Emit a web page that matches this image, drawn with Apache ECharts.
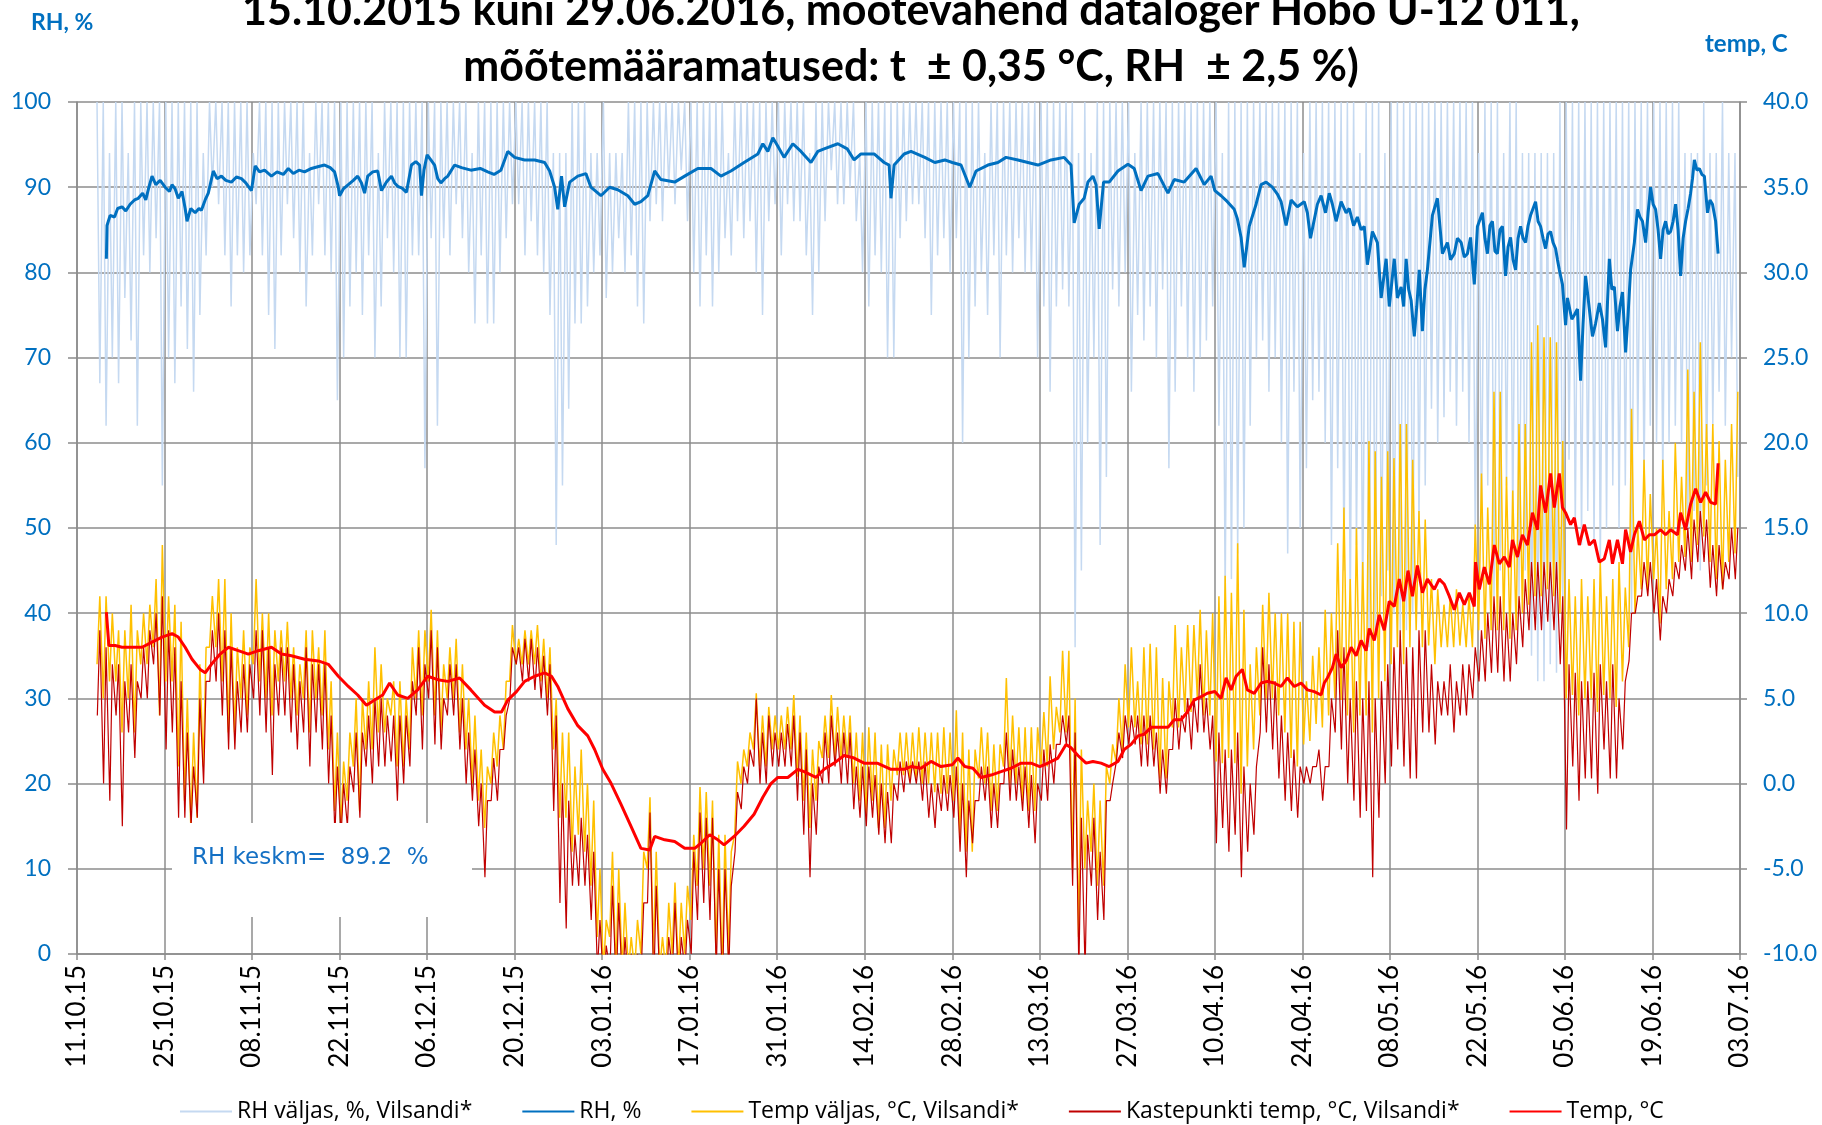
<!DOCTYPE html>
<html><head><meta charset="utf-8">
<script src="https://cdn.jsdelivr.net/npm/echarts@6/dist/echarts.min.js"></script>
<style>html,body{margin:0;padding:0;background:#fff}#c{width:1822px;height:1125px}</style>
</head><body><div id="c"></div>
<script>
// ---- text ----
const titleLines = ['15.10.2015 kuni 29.06.2016, mõõtevahend dataloger Hobo U-12 011,', 'mõõtemääramatused: t  ± 0,35 °C, RH  ± 2,5 %)'];
const seriesNames = ['RH väljas, %, Vilsandi*', 'RH, %', 'Temp väljas, °C, Vilsandi*', 'Kastepunkti temp, °C, Vilsandi*', 'Temp, °C'];
const xTickLabels = ['11.10.15','25.10.15','08.11.15','22.11.15','06.12.15','20.12.15','03.01.16','17.01.16','31.01.16','14.02.16','28.02.16','13.03.16','27.03.16','10.04.16','24.04.16','08.05.16','22.05.16','05.06.16','19.06.16','03.07.16'];
const rhMean = 89.2;

// ---- outdoor (Vilsandi) daily high / low, day index from 11.10.15, first day = outStartDay ----
const outStartDay = 3;
const tOutHi = [
11,11,10,9,9,10.5,9, 10,10.5,12,14,11,10.5,9.5, 5,3,7,8,11,12,12, 10,8,9,8,12,10,10, 9,9,9.5,8,7,9,9,
8,9,6,3,1.3,3,5, 5,6,8,7,5,6,6, 5,8,9,9,10.2,9,7, 8,8.5,7,5,4,2,1, 3,4,6,9.3,8.5,9,9,
9.3,8.5,8,5,3,3,1, 2,0,-1,-5,-8,-4,-5, -7,-9,-8,-4,-0.8,-4,-9, -7,-5.8,-7,-6,-3,-0.2,-0.5, -1,-3,-3,-4,1.3,2,3,
5.3,4,4.5,4,4,4.5,5.2, 4,3,2,2.5,4,5.2,4.5, 4,4,3,3,3.3,3,2.3, 2.3,2,3,3,3,3.3,3, 3,3,3.3,3,4.3,3,2,
2,3.3,3,2.3,2.3,6.2,4, 3.3,3.3,3.3,3.3,4.2,6.3,4.5, 7.8,7.8,5,2,-1,0,-1, 1,2.3,5,7,8,6,8, 8.2,8,6.2,6,9.3,8,9.3,
9.3,10.2,9,10,11,12.2,11.2, 14.1,10.2,7,8,10.5,11.2,10, 10,10,9.5,9.5,6,7.5,8, 10.2,10,14.1,16.2,12,15,13, 20.1,19.5,18,19.5,19.1,21.1,21.1,
19,16,15.5,12,11.4,10.5,11, 11.4,10.5,11,15.2,18.2,16.2,23, 23,18,17.2,21.1,21.1,25.9,26.9, 26.2,26.2,25.9,20.1,12,11,12, 11,12,13,11,12,13,11.5,
22,15,19,17,15,19,16, 20,18,24.3,23,25.9,21.1,21.1, 20.1,19,21.1,23];
const tOutLo = [
7,5,6,6,3,5,3, 7,7,8,4,6,6,1, -1,-2.5,-2,1,8,8,6, 3,3,5,4,7,6,5, 4,6,6,5,4,5,3,
5,4,2,-1.6,-2.6,-1,1, -1.6,2,2,3,3,4,1, 1,2,5,4,6,4,3, 5,5,3,2,0,-1,-2.6, 0,1,2,6,7,7,7,
7,6,5,2,-2,-2,-4, -3,-4,-6,-9,-11,-9,-11, -11,-11,-11,-10,-5,-10,-11, -11,-10,-11,-10,-8,-6,-5, -6,-10,-11,-10,-3,0,1,
2,1,1,2,2,2,2, 0.4,-1,-2.6,-1,1.5,1.5,1.5, 1.5,1.5,0,-1,-2,-1,-2.6, -2.6,-1,0.5,0.5,0.3,0.3,0, 0,-0.5,-0.6,-0.6,-1,-3,-4,
-4,0.3,0,-1.6,-1.6,1,0, 0,-1,-1.6,-1.6,1,1,2, 3,3,-5,-9,-5,-4,-6, -6,0,1.3,2,3.3,3.3,2.3, 2.3,2,0.3,0.3,3.3,3.3,4.2,
4.2,5,4,4,1.3,1.2,1.5, 1.2,-0.6,1,2,4,5,5, 4,3,1.5,1,2.3,2.5,3.5, 3.3,4,5,4.9,4,3,4, 4,3,5,6,7,8,7,
8,9,8,8.1,7,8,8, 8,8.1,8,8,9,8.5,9, 9,9,8.5,9,10,10.5,11, 11,11.4,11,10,5,5.2,4, 5,5,4.2,5.2,5,4.5,6,
8,10,11.4,11.4,12,9.4,11.4, 12,13,13.3,13,14,14.5,13, 12,11.4,13,13.5];
const dewHi = [
9,8,7,7,6,7,6, 8,9,10,11,9,8,6, 3,1,5,6,9,10,9, 8,6,7,7,9,9,8, 7,8,8,7,6,8,7,
7,7,4,1,0,1,3, 3,4,5,5,4,4,4, 4,6,8,7,9,8,5, 7,7,5,3,2,0,-1, 1.5,2,4,8,8,8.5,8.5,
8,7.5,7,4,0,-1,-3, -2,-3,-4,-8,-9.5,-6,-7, -9,-10,-10,-7,-1.7,-6,-10, -9,-7,-9,-8,-4,-1.7,-2, -2,-5,-5,-6,-0.5,1,2,
5,3,4,3,3,3.5,4, 3,2,0,1,3,4,3, 3,3,1,1,1,0.5,0, -0.5,0,1.3,1.3,1.3,1.3,1.3, 0,0,0.5,0.5,1,0,-1,
-1,1,1,0,0,3,2, 1,1,0.5,0,2,2.3,2.3, 4,4,3,-2,-3,-2,-4, -1,0,3,4,4,4,4, 4,3,2,2,5,4,5,
5,7,5,4,3,2,2, 3,1,0,1,8,7,6, 4,3,2,1,1,1,2, 1,5,9,8,5,6,5, 6,5,6,7,8,9,8,
8,9,9,7,6,6,7, 6,7,7,8,9,10,11, 11,10,10,11,12,13,13, 13,13,13,11,7,6.5,6, 6,6.5,7,6,7,5,6,
10,11,13,13,12,11,12, 13,14,15,15.5,16,15.5,14, 14,13,15,15];
const dewLo = [
4,0,-1,4,-2.5,3,1.5, 5,5,7,4,2,3,-2, -2,-2.5,-2,0,6,6,4, 2,2,3,3,5,4,3, 0.5,4,4,3,2,3,1,
3,2,0,-3,-3,-2.5,-0.5, -2,1,0,1,1,1.3,-1, 0,1,4,2,5,2.3,2, 4,4,2,0,-1,-2.5,-5.5, -1,-1,2,5,7,6,6,
5.5,5,4,-1.6,-7,-8.5,-6, -6,-6,-8,-11,-12,-11,-12, -12,-12,-12,-11,-7,-12,-12, -12,-11,-12,-11,-10,-8,-7, -8,-11,-12,-11,-4,-1.5,0,
1,0,0,1,1,1,1, -1,-3,-5.5,-3,0,0,1, 0,0,-1.5,-2,-2.5,-2,-3, -3.5,-3.5,-1,-0.5,0,0,-1, -2,-2.6,-1.6,-1.6,-2,-4,-5.5,
-3.5,-1,-1,-2.6,-2.6,0,-1, -1,-1.6,-2.6,-3.5,-1,-1,0, 2.3,2.3,-6,-11,-11,-6,-8, -8,-1,1.3,1.5,2.3,2.3,1, 1,1,-0.6,-0.6,2,2,3,
2,3,3,2,-3.5,-2.6,-4, -3,-5.5,-4,-3,3,3,2, 0.3,-1,-1.6,-2,0,0,1, -1,1,3,2,0,-1,-2, -1.6,-5.5,-2,0,1,2,1,
0.3,0.3,3,3,2.3,4,4, 3,4,4,5,6,6,6.5, 6.5,6,6,7,8,9,9, 9,9.5,9,7,-2.7,1,-1, 0.3,0.3,-0.6,2,0.3,0.3,2,
7.2,10,11,11,10,8.4,10, 11,12,12.5,12,13,13,11.5, 11,11.4,12,12];
const rhOutHi = [
100,100,94,100,100,94,100, 100,100,100,100,100,100,100, 100,100,100,94,100,100,100, 100,100,100,100,94,100,100, 100,100,100,100,100,100,94,
100,100,100,100,100,100,100, 100,100,100,94,100,100,100, 100,100,100,100,100,100,100, 100,100,100,100,94,100,100, 100,100,100,100,100,100,100,
100,100,100,94,94,94,100, 100,100,94,94,100,94,94, 94,100,100,100,100,100,100, 100,100,100,100,100,100,100, 100,100,100,94,100,100,100,
100,100,100,100,100,100,100, 100,100,94,100,100,100,100, 100,100,100,94,100,100,100, 100,100,100,100,100,100,100, 100,100,100,100,100,100,100,
100,100,94,100,100,100,100, 100,100,100,100,100,100,100, 100,100,100,94,100,94,100, 100,100,100,100,100,94,100, 100,100,100,100,100,100,100,
100,100,100,100,100,94,100, 100,100,100,100,100,100,100, 100,100,100,100,94,100,100, 100,100,100,100,100,100,94, 100,100,100,94,100,100,100,
100,100,100,100,100,100,100, 100,100,100,100,94,100,100, 100,94,100,100,94,94,94, 94,94,94,100,100,100,100, 100,100,100,100,100,100,100,
100,100,100,100,100,100,100, 100,100,94,94,94,100,94, 94,100,94,94];
const rhOutLo = [
67,62,70,67,77,72,62, 82,80,84,55,70,67,76, 71,66,75,82,90,88,82, 76,82,80,82,88,82,75, 71,82,88,84,80,76,82,
88,82,80,65,70,76,80, 75,82,70,76,84,80,70, 70,82,82,57,84,62,84, 82,88,84,80,74,82,74, 74,80,84,88,88,82,86,
82,80,75,48,55,64,74, 74,76,80,82,77,80,84, 80,82,76,74,86,88,86, 90,88,92,86,80,76,82, 76,80,84,82,86,84,86,
80,75,86,88,82,88,86, 86,82,75,80,86,92,88, 88,90,86,80,76,82,80, 70,70,84,86,88,88,84, 75,82,84,80,84,60,70,
76,80,75,82,70,82,80, 84,80,80,70,76,66,76, 78,76,36,45,60,70,48, 56,78,76,80,66,75,72, 76,70,78,57,66,76,70,
66,70,72,76,62,42,44, 47,50,62,70,72,66,70, 60,47,66,50,57,65,66, 60,48,57,45,40,48,40, 36,38,42,45,40,36,38,
40,50,55,64,60,63,66, 62,66,60,48,50,55,42, 45,55,50,42,45,35,32, 32,34,33,40,58,50,48, 52,48,45,50,55,50,55,
40,60,55,62,60,55,60, 62,60,50,52,45,55,62, 66,62,70,56];

// ---- indoor logger [day, value] ----
const rhInPts = [
[4.7,81.6],[4.8,85.5],[5.3,86.7],[6,86.5],[6.5,87.5],[7.2,87.7],[7.8,87.2],[8.5,88],[9.2,88.5],[9.8,88.7],[10.5,89.3],[11,88.5],[11.5,90],[12,91.3],[12.6,90.3],[13.3,90.8],[14.1,90],[14.8,89.5],[15.2,90.3],[15.7,89.8],[16.2,88.7],[16.8,89.5],[17.3,87.5],[17.6,86],[18.2,87.5],[18.9,87],[19.5,87.5],[19.9,87.3],[20.5,88.5],[21,89.3],[21.8,91.9],[22.4,91],[23.1,91.3],[23.8,90.8],[24.7,90.6],[25.5,91.2],[26.3,91],[27,90.5],[27.9,89.6],[28.5,92.5],[29.2,91.8],[30,92],[31.1,91.3],[32,91.8],[33,91.5],[33.8,92.2],[34.6,91.6],[35.5,92],[36.4,91.8],[37.5,92.2],[38.5,92.4],[39.6,92.6],[40.5,92.3],[41.2,91.8],[41.8,90],[42,89],[42.6,89.8],[43.4,90.3],[44.2,90.8],[44.9,91.3],[45.5,90.5],[46,89.3],[46.5,91.3],[47.3,91.8],[48.1,91.9],[48.7,89.6],[49.5,90.6],[50.3,91.3],[50.8,90.5],[51.3,90.1],[52,89.9],[52.7,89.4],[53.5,92.6],[54.2,93],[54.8,92.6],[55.1,89],[55.5,92],[56,93.8],[56.6,93.2],[57.2,92.6],[57.7,91],[58.2,90.5],[58.8,91],[59.3,91.3],[60.4,92.6],[61.5,92.3],[63,92],[64.5,92.2],[65.7,91.8],[66.7,91.5],[67.8,92],
[68.9,94.2],[70,93.5],[71.6,93.2],[73.2,93.2],[74.8,92.9],[75.6,91.9],[76.4,90],[76.9,87.4],[77.5,91.3],[78,87.7],[78.8,90.6],[80.1,91.3],[81.4,91.6],[82.2,90],[83.8,89],[85.2,90],[86.5,89.7],[88.1,89],[89.2,88],[90.2,88.3],[91.3,89],[92.4,91.9],[93.4,90.9],[95.6,90.6],[97.2,91.3],[99.3,92.2],[101.4,92.2],[103,91.3],[104.6,91.9],[106.7,92.9],[108.9,93.9],[109.7,95.1],[110.5,94.2],[111.3,95.8],[112.1,94.8],[113.1,93.5],[114.5,95.1],[115.8,94.2],[117.4,92.9],[118.5,94.2],[119.5,94.5],[121.7,95.1],[123.2,94.5],[124.3,93.2],[125.4,93.9],[127.5,93.9],[129.1,92.9],[129.9,92.6],[130.2,88.7],[130.7,92.6],[132.3,93.9],[133.4,94.2],[135.6,93.5],[137.2,92.9],[138.8,93.2],[140,92.9],[141.4,92.6],[142.8,90],[143.8,91.9],[145.7,92.6],[147.3,92.9],[148.6,93.5],[150.5,93.2],[152.1,92.9],[153.7,92.6],[155.8,93.2],[157.9,93.5],[159,92.6],[159.5,85.8],[160.3,88],[161.1,88.7],[161.7,90.6],[162.5,91.3],[163,90.3],[163.5,85.1],[164.2,90.6],[165.1,90.6],[166.5,91.9],[168.1,92.7],[169.1,92.2],[170.2,89.6],[171.3,91.3],[172.9,91.6],[174.5,89.3],[175.5,90.9],[177.1,90.6],[179,92.2],[180.3,90.3],[181.4,91.3],
[182,89.6],[183,89],[184,88.3],[185.1,87.4],[185.6,86.3],[186.2,84.1],[186.7,80.6],[187.5,85.4],[188.6,88],[189.4,90.3],[190.2,90.6],[191.2,90],[192,89.2],[192.6,88.3],[193.4,85.5],[194.2,88.5],[195.2,87.7],[196.3,88.3],[196.8,87],[197.3,84],[198.4,88],[199,89],[199.7,87],[200.3,89.3],[200.8,88],[201.4,86],[202.2,88.3],[203,87],[203.5,87.5],[204.2,85.5],[204.8,86.5],[205.4,85],[205.9,85.4],[206.4,80.9],[207.2,84.8],[208,83.5],[208.6,77],[209.4,81.6],[209.9,76],[210.7,81.6],[211.2,77],[211.8,78.3],[212.2,76],[212.6,81.6],[213,78],[213.4,76.7],[213.9,72.5],[214.3,76],[214.7,80.3],[215.2,73.1],[215.6,78],[216,80.3],[216.8,86.7],[217.6,88.7],[218.4,82.2],[219.2,83.5],[219.7,81.5],[220.3,82.2],[220.8,84],[221.4,83.5],[221.9,81.8],[222.4,82.2],[222.9,84.1],[223.5,78.6],[224,85.4],
[224.8,87],[225.2,84],[225.6,82.2],[226,85.5],[226.4,86],[226.8,82.5],[227.2,82.2],[227.6,85],[228,85.4],[228.5,79.6],[228.9,83],[229.3,84.1],[229.7,81.5],[230.1,80.3],[230.5,84],[230.9,85.4],[231.3,84],[231.7,83.5],[232.1,85.5],[232.5,86.7],[232.9,87.5],[233.3,88.3],[233.7,86],[234.1,85.4],[234.5,84],[234.9,82.8],[235.3,84.5],[235.7,84.8],[236.1,83.5],[236.5,82.8],[236.8,81.5],[237.1,80.3],[237.6,78.6],[238.1,73.8],[238.4,77],[238.7,77],[239.1,74.5],[239.5,75],[240,75.7],[240.5,67.3],[240.9,74],[241.3,79.6],[241.9,75.7],[242.4,72.5],[242.9,74],[243.5,76.4],[244,74.5],[244.5,71.2],[245.1,81.6],[245.5,78],[245.9,78.3],[246.4,73.1],[246.8,76],[247.2,77.7],[247.7,70.6],[248.1,75],[248.5,80.3],[249.1,83.5],[249.6,87.4],[250,86.5],[250.4,86],[250.9,83.5],[251.3,87],[251.7,90],[252.1,88],[252.5,87.4],[252.9,85],[253.3,81.6],[253.7,85],[254.1,86],[254.5,84.5],[254.9,84.8],[255.3,86],[255.7,88],[256.1,85],[256.5,79.6],[256.9,84],[257.3,86],[257.7,87.5],[258.1,89.3],[258.4,91],[258.7,93.2],[259.1,92],[259.5,92.2],[259.9,91.5],[260.3,91.3],[260.8,87],[261.2,88.5],[261.6,88],[262.1,86],[262.5,82.2]];
const tInPts = [
[4.7,10.06],[5.1,8.1],[6.1,8.1],[7.2,8],[8.8,8],[10.4,8],[12,8.3],[13.6,8.6],[15.2,8.8],[16.2,8.6],[17.3,8],[18.4,7.3],[19.7,6.7],[20.5,6.5],[21.5,7],[22.9,7.6],[24.2,8],[25.8,7.8],[27.4,7.6],[29,7.8],[31.1,8],[32.7,7.6],[34.3,7.5],[36.4,7.3],[38.6,7.2],[40.2,7],[41.8,6.3],[43.4,5.7],[44.9,5.2],[46.3,4.6],[47.6,4.9],[48.9,5.2],[50,5.9],[51.3,5.2],[52.9,5],[54.5,5.5],[56.1,6.3],[57.7,6.1],[59.3,6],[61.2,6.2],[63,5.5],[65.2,4.6],[66.8,4.2],[67.9,4.2],[68.9,4.9],[70.3,5.4],[71.6,6],[73.2,6.3],[74.8,6.5],[75.9,6.3],[76.9,5.7],[78.5,4.4],[80.1,3.4],[81.7,2.8],[82.8,2],[84.1,0.84],[85.4,0.03],[87,-1.2],[88.6,-2.5],[90.2,-3.8],[91.6,-3.9],[92.4,-3.1],[94,-3.3],[95.6,-3.4],[97.2,-3.8],[98.8,-3.8],[99.8,-3.5],[101.2,-3],[102.5,-3.3],[103.5,-3.6],[105.1,-3.1],[106.7,-2.5],[108.3,-1.8],[109.7,-0.8],[111,0],[112.1,0.36],[113.7,0.36],[115.3,0.84],[116.3,0.7],[118.2,0.36],[119.5,0.84],[121.1,1.2],[122.7,1.65],[124.3,1.5],[125.9,1.2],[128,1.2],[130.2,0.84],[132.3,0.84],[133.4,1],[135,0.9],[136.6,1.3],[138.2,1],[140,1.1],[140.9,1.5],[142,1],[143.3,0.9],[144.6,0.36],[146.2,0.5],[147.8,0.7],[149.4,0.9],[151,1.2],[152.6,1.2],[154,1],[155.3,1.2],[156.9,1.5],[158.2,2.3],[159,2.1],[160.1,1.65],[161.4,1.2],[162.5,1.3],[163.8,1.2],[165.1,1],[166.5,1.3],[167.5,2],[168.6,2.3],[169.7,2.8],[170.7,2.9],[171.8,3.3],[173.4,3.3],[174.5,3.3],[175.5,3.75],[176.6,3.75],[177.6,4.2],[178.7,4.9],[179.8,5.1],[180.8,5.3],[182,5.4],[183,5],[183.8,6.2],[184.6,5.5],[185.4,6.3],[186.4,6.7],[187.2,5.5],[188.3,5.3],[189.4,5.9],[190.4,6],[191.5,5.9],[192.6,5.7],[193.6,6.2],[194.7,5.7],[195.8,5.9],[196.8,5.5],[197.9,5.4],[199,5.2],[199.5,5.9],[200,6.2],[200.8,6.8],[201.4,7.6],[202.2,6.8],[203,7.2],[203.8,8],[204.6,7.5],[205.4,8.4],[206.2,7.8],[206.7,9.1],[207.5,8.4],[208.3,9.9],[209.1,9],[209.9,10.7],[210.7,10.4],[211.5,12],[212.2,10.7],[212.9,12.5],[213.6,11],[214.4,12.8],[215.2,11.2],[216,12],[217.1,11.4],[217.9,12],[218.7,11.7],[219.5,11],[220.3,10.2],[221.1,11.2],[221.9,10.5],[222.7,11.2],[223.5,10.4],[223.7,13],[224.3,11.4],[225.1,12.7],[225.9,11.7],[226.7,14],[227.5,12.9],[228.3,13.3],[229.1,12.7],[229.6,14.3],[230.4,13.3],[231.2,14.6],[232,14],[232.8,15.9],[233.6,14.9],[234.1,17.5],[234.9,15.9],[235.7,18.2],[236.3,16.2],[237.1,18.2],[237.6,16.2],[238.1,15.9],[238.9,15.2],[239.5,15.6],[240.3,14],[241.1,15.2],[241.9,14],[242.7,14.3],[243.5,13],[244.3,13.2],[245.1,14.3],[245.6,12.9],[246.4,14.3],[247.2,12.9],[247.7,14.9],[248.5,13.6],[249.1,14.6],[249.9,15.4],[250.7,14.3],[251.5,14.6],[252.3,14.6],[253.3,14.9],[254.1,14.6],[254.9,14.9],[256,14.6],[256.5,15.9],[257.3,14.9],[258.1,16.4],[258.9,17.3],[259.7,16.5],[260.5,17.1],[261.3,16.5],[262.1,16.4],[262.5,18.8]];

// ---- build point lists from daily high/low (night/afternoon sampling) ----
function dailyPts(first, second, o1, o2) {
  const r = [];
  for (let i = 0; i < first.length; i++) {
    const d = outStartDay + i;
    r.push([d + o1, first[i]], [d + o2, second[i]]);
  }
  return r;
}
const rhOutPts = dailyPts(rhOutHi, rhOutLo, 0.2, 0.65);
const tOutPts = dailyPts(tOutLo, tOutHi, 0.2, 0.65);
const dewPts = dailyPts(dewLo, dewHi, 0.25, 0.65);

const gray = '#8c8c8c';
const blueTxt = '#0070c0';
const chart = echarts.init(document.getElementById('c'));
const lineS = (name, data, color, width, yi) => ({
  name, type: 'line', data, yAxisIndex: yi, symbol: 'none', showSymbol: false,
  lineStyle: { color, width }, itemStyle: { color }, clip: true, animation: false
});
chart.setOption({
  animation: false,
  backgroundColor: '#fff',
  title: {
    text: titleLines.join('\n'), left: 'center', top: -22,
    textStyle: { fontFamily: 'Lato', fontSize: 43, fontWeight: 'bold', color: '#000', lineHeight: 56 }
  },
  legend: {
    data: seriesNames, left: 174, top: 1095, itemWidth: 52, itemHeight: 14, itemGap: 49,
    itemStyle: { opacity: 0 },
    textStyle: { fontFamily: 'Open Sans', fontSize: 23, color: '#000' }
  },
  grid: { left: 77, right: 82, top: 102, bottom: 171 },
  xAxis: {
    type: 'value', min: 0, max: 266, interval: 14,
    axisLine: { show: true, lineStyle: { color: gray, width: 1.5 } },
    axisTick: { show: true, length: 6, lineStyle: { color: gray, width: 1.5 } },
    splitLine: { show: true, lineStyle: { color: gray, width: 1.5 } },
    axisLabel: { rotate: 90, margin: 11, fontFamily: 'Lato', fontSize: 26, color: '#000',
      formatter: v => xTickLabels[Math.round(v / 14)] }
  },
  yAxis: [
    { type: 'value', min: 0, max: 100, interval: 10, position: 'left',
      axisLine: { show: true, lineStyle: { color: gray, width: 1.5 } },
      axisTick: { show: true, length: 9, lineStyle: { color: gray, width: 1.5 } },
      splitLine: { show: true, lineStyle: { color: gray, width: 1.5 } },
      axisLabel: { color: blueTxt, fontFamily: 'Lato', fontSize: 23, margin: 26 } },
    { type: 'value', min: -10, max: 40, interval: 5, position: 'right',
      axisLine: { show: true, lineStyle: { color: gray, width: 1.5 } },
      axisTick: { show: true, length: 7, lineStyle: { color: gray, width: 1.5 } },
      splitLine: { show: false },
      axisLabel: { color: blueTxt, fontFamily: 'Lato', fontSize: 23, margin: 23, formatter: v => v.toFixed(1) } }
  ],
  graphic: [
    { type: 'rect', z: 100, shape: { x: 172, y: 823, width: 300, height: 94 }, style: { fill: '#fff' } },
    { type: 'text', z: 101, x: 192, y: 858, style: { text: 'RH keskm=  ' + rhMean + '  %', fill: '#1470c4', font: '23px "DejaVu Sans"', verticalAlign: 'middle' } },
    { type: 'text', z: 101, x: 31, y: 23, style: { text: 'RH, %', fill: blueTxt, font: 'bold 23px Lato', verticalAlign: 'middle' } },
    { type: 'text', z: 101, x: 1705, y: 44, style: { text: 'temp, C', fill: blueTxt, font: 'bold 24px Lato', verticalAlign: 'middle' } }
  ],
  series: [
    lineS(seriesNames[0], rhOutPts, '#c5d9f1', 1.5, 0),
    lineS(seriesNames[1], rhInPts, '#0070c0', 3, 0),
    lineS(seriesNames[2], tOutPts, '#ffc000', 1.5, 1),
    lineS(seriesNames[3], dewPts, '#c00000', 1.2, 1),
    lineS(seriesNames[4], tInPts, '#ff0000', 3, 1)
  ]
});
</script></body></html>
